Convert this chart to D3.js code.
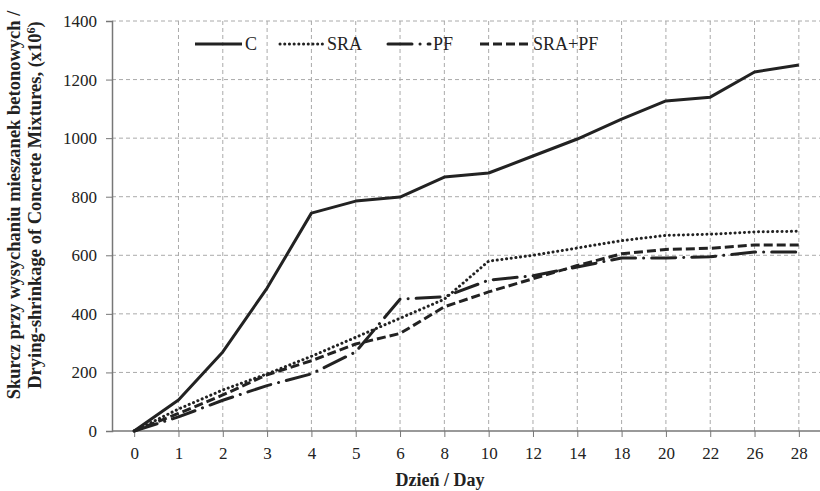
<!DOCTYPE html>
<html>
<head>
<meta charset="utf-8">
<script src="https://cdn.jsdelivr.net/npm/d3@7"></script>
<style>
  body { margin: 0; background: #fff; }
  text { font-family: "Liberation Serif", "Times New Roman", serif; fill: #222; }
</style>
</head>
<body>
<div id="chart"></div>
<script>
// Drying shrinkage of concrete mixtures, x10^6
var days = ["0", "1", "2", "3", "4", "5", "6", "8", "10", "12", "14", "18", "20", "22", "26", "28"];
var valC = [0, 106, 270, 488, 744, 785, 799, 867, 881, 939, 997, 1065, 1127, 1140, 1226, 1250];
var valSRA = [0, 75, 140, 195, 255, 320, 385, 450, 580, 600, 625, 650, 668, 672, 680, 682];
var valPF = [0, 48, 105, 155, 195, 270, 450, 458, 515, 530, 560, 591, 591, 595, 611, 611];
var valSRAPF = [0, 60, 123, 192, 240, 297, 333, 424, 475, 520, 565, 605, 620, 624, 635, 635];
var seriesNames = ["C", "SRA", "PF", "SRA+PF"];
var yTicks = [0, 200, 400, 600, 800, 1000, 1200, 1400];

var width = 820, height = 491;
var x0 = 112, x1 = 821, yTop = 21, yBot = 431;

// line looks per series
var dashes = [null, "0.1 4.6", "24 8 0.1 8", "9 4"];
var caps = ["butt", "round", "round", "butt"];

var svg = d3.select("#chart").append("svg")
  .attr("width", width)
  .attr("height", height);

var x = d3.scalePoint().domain(days).range([x0, x1]).padding(0.5);
var y = d3.scaleLinear().domain([0, 1400]).range([yBot, yTop]);

// grid
svg.append("g").selectAll("line.hg")
  .data(yTicks.slice(1))
  .enter().append("line")
  .attr("x1", x0).attr("x2", width)
  .attr("y1", function(d) { return y(d); })
  .attr("y2", function(d) { return y(d); })
  .attr("stroke", "#aaa")
  .attr("stroke-width", 1)
  .attr("stroke-dasharray", "4 3");

svg.append("g").selectAll("line.vg")
  .data(days.slice(1))
  .enter().append("line")
  .attr("x1", function(d) { return x(d); })
  .attr("x2", function(d) { return x(d); })
  .attr("y1", yTop).attr("y2", yBot)
  .attr("stroke", "#aaa")
  .attr("stroke-width", 1)
  .attr("stroke-dasharray", "4 3");

// axes
var yAxis = svg.append("g")
  .attr("transform", "translate(" + x0 + ",0)")
  .call(d3.axisLeft(y).tickValues(yTicks).tickFormat(d3.format("d")).tickSize(6).tickPadding(9));
yAxis.selectAll("text").style("font-size", "17px");

var xAxis = svg.append("g")
  .attr("transform", "translate(0," + yBot + ")")
  .call(d3.axisBottom(x).tickSize(6).tickPadding(10).tickSizeOuter(0));
xAxis.selectAll("text").style("font-size", "17px");
xAxis.select(".domain").attr("d", "M" + x0 + ",0H" + width);

svg.selectAll(".domain").attr("stroke", "#777").attr("stroke-width", 1.5);
svg.selectAll(".tick line").attr("stroke", "#777");

// series
var allVals = [valC, valSRA, valPF, valSRAPF];
var line = d3.line()
  .x(function(d, i) { return x(days[i]); })
  .y(function(d) { return y(d); });

allVals.forEach(function(vals, k) {
  svg.append("path")
    .datum(vals)
    .attr("d", line)
    .attr("fill", "none")
    .attr("stroke", "#222")
    .attr("stroke-width", 3)
    .attr("stroke-linecap", caps[k])
    .attr("stroke-linejoin", "round")
    .attr("stroke-dasharray", dashes[k]);
});

// legend
var legX = [195, 280, 388, 480], legW = [47, 44, 42, 50];
var leg = svg.append("g").attr("transform", "translate(0,44)");
seriesNames.forEach(function(name, k) {
  leg.append("line")
    .attr("x1", legX[k]).attr("x2", legX[k] + legW[k])
    .attr("y1", 0).attr("y2", 0)
    .attr("stroke", "#222")
    .attr("stroke-width", 3)
    .attr("stroke-linecap", caps[k])
    .attr("stroke-dasharray", dashes[k]);
  leg.append("text")
    .attr("x", legX[k] + legW[k] + 3)
    .attr("y", 6)
    .style("font-size", "18px")
    .text(name);
});

// axis titles
svg.append("text")
  .attr("x", 440).attr("y", 486)
  .attr("text-anchor", "middle")
  .style("font-size", "18px")
  .style("font-weight", "bold")
  .text("Dzień / Day");

var yTitle = svg.append("text")
  .attr("transform", "translate(0,205) rotate(-90)")
  .attr("text-anchor", "middle")
  .style("font-size", "18.5px")
  .style("font-weight", "bold");
yTitle.append("tspan").attr("x", 0).attr("y", 20)
  .text("Skurcz przy wysychaniu mieszanek betonowych /");
var l2 = yTitle.append("tspan").attr("x", 0).attr("y", 41)
  .text("Drying-shrinkage  of Concrete Mixtures,  (x10");
l2.append("tspan").attr("dy", -6).style("font-size", "12px").text("6");
l2.append("tspan").attr("dy", 6).text(")");
</script>
</body>
</html>
